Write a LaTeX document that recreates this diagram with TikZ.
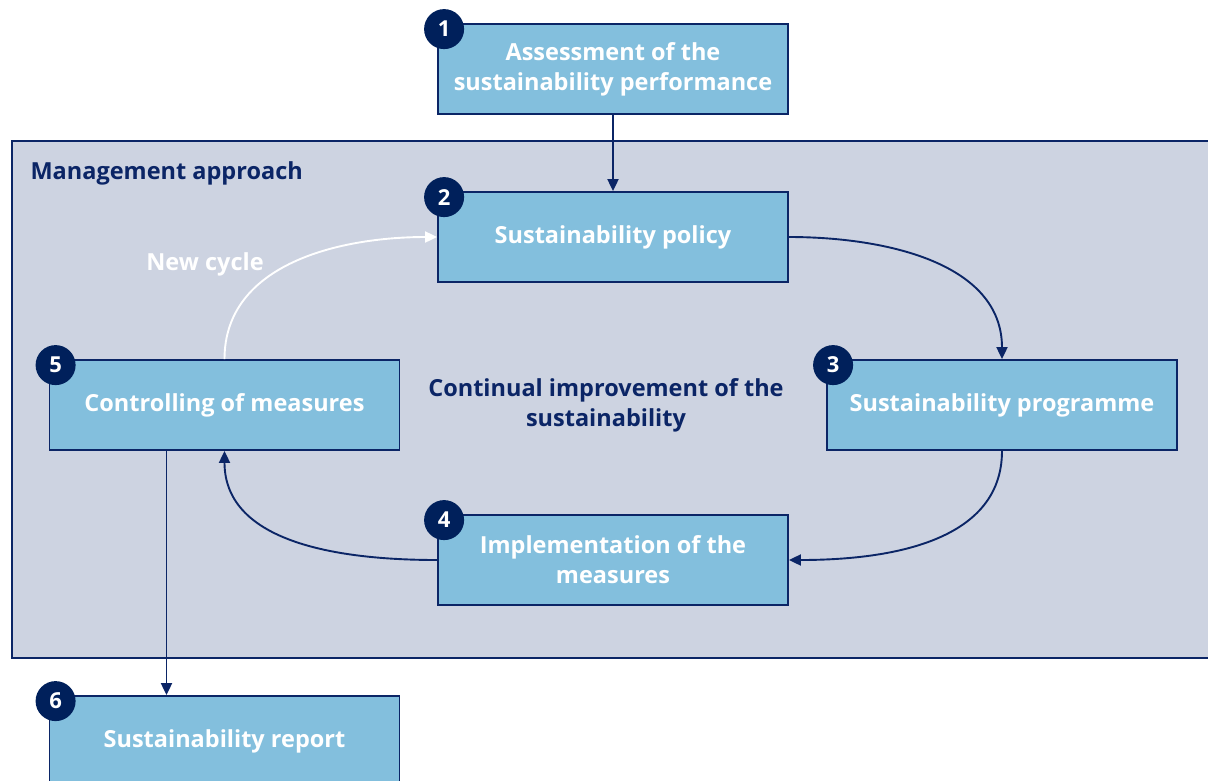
\documentclass[tikz,border=0pt]{standalone}
\usepackage{fontspec}
\setmainfont{Open Sans}
\usetikzlibrary{arrows.meta,calc}
\definecolor{navy}{HTML}{0B2566}
\definecolor{boxfill}{HTML}{83BFDD}
\definecolor{bgfill}{HTML}{CDD3E1}
\definecolor{badge}{HTML}{00205B}
\tikzset{
  stepbox/.style={draw=navy,line width=1.8pt,fill=boxfill,minimum width=350pt,minimum height=90pt,
    inner sep=0pt,align=center,text=white,font=\fontsize{23.5}{30}\selectfont\bfseries},
  badgec/.style={circle,fill=badge,minimum size=40pt,inner sep=0pt,text=white,font=\fontsize{22}{22}\selectfont\bfseries},
  conn/.style={draw=navy,line width=1.9pt,-{Triangle[length=12pt,width=11pt]}},
  wconn/.style={draw=white,line width=1.9pt,-{Triangle[length=12pt,width=11pt]}},
  lbl/.style={text=navy,font=\fontsize{23.5}{30}\selectfont\bfseries,align=center},
}
\begin{document}
\begin{tikzpicture}[x=1pt,y=-1pt]
\useasboundingbox (0,0) rectangle (1208,780);
\begin{scope}
\clip (0,0) rectangle (1208,780);
\node[draw=navy,line width=1.8pt,fill=bgfill,minimum width=1210pt,minimum height=517pt,anchor=north west,inner sep=0pt] (bg) at (11,140) {};
\node[lbl,anchor=west] (ma) at (27,173) {Management approach};
\node[stepbox] (b1) at (613,69) {Assessment of the\\sustainability performance};
\node[stepbox] (b2) at (613,237) {Sustainability policy};
\node[stepbox] (b3) at (1002,405) {Sustainability programme};
\node[stepbox] (b4) at (613,560) {Implementation of the\\measures};
\node[stepbox] (b5) at (224.5,405) {Controlling of measures};
\node[stepbox] (b6) at (224.5,741) {Sustainability report};
\foreach \n in {1,...,6}{
  \node[badgec] (c\n) at ([xshift=7pt,yshift=-6pt]b\n.north west) {\n};
}
\node[lbl] (ci) at (606,405) {Continual improvement of the\\sustainability};
\node[lbl,text=white] (nc) at (205,264) {New cycle};
\draw[conn] (b1.south) -- (b2.north);
\draw[conn] (b2.east) to[out=0,in=90] (b3.north);
\draw[conn] (b3.south) to[out=-90,in=0] (b4.east);
\draw[conn] (b4.west) to[out=180,in=-90] (b5.south);
\draw[wconn] (b5.north) to[out=90,in=180] (b2.west);
\draw[conn] ([xshift=-58pt]b5.south) -- ([xshift=-58pt]b6.north);
\end{scope}
\end{tikzpicture}
\end{document}
